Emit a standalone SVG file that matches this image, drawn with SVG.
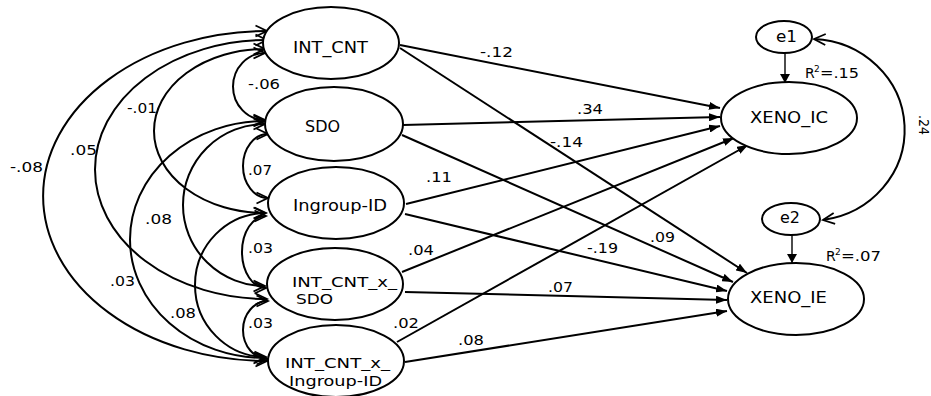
<svg xmlns="http://www.w3.org/2000/svg" width="931" height="396" viewBox="0 0 931 396">
  <style>
    .node ellipse { fill: #fff; stroke: #000; stroke-width: 2; }
    .err ellipse { fill: #fff; stroke: #000; stroke-width: 2; }
    text { font-family: "DejaVu Sans", Verdana, sans-serif; fill: #000; }
    .nt { font-size: 15px; }
    .nt2 { font-size: 14px; }
    .lbl { font-size: 13.5px; }
    .r2 { font-size: 14px; }
    .sup { font-size: 9px; }
    .reg { fill: none; stroke: #000; stroke-width: 2; marker-end: url(#solid); }
    .res { fill: none; stroke: #000; stroke-width: 1.4; marker-end: url(#solidSmall); }
    .cov { fill: none; stroke: #000; stroke-width: 2; marker-start: url(#open); marker-end: url(#open); }
  </style>
  <defs>
    <marker id="solid" markerUnits="userSpaceOnUse" viewBox="0 0 11 8" refX="11" refY="4" markerWidth="11" markerHeight="8" orient="auto">
      <path d="M0,0 L11,4 L0,8 z" fill="#000"/>
    </marker>
    <marker id="solidSmall" markerUnits="userSpaceOnUse" viewBox="0 0 9 10" refX="9" refY="5" markerWidth="9" markerHeight="10" orient="auto">
      <path d="M0,0 L9,5 L0,10 z" fill="#000"/>
    </marker>
    <marker id="open" markerUnits="userSpaceOnUse" viewBox="0 0 12 11" refX="11.5" refY="5.5" markerWidth="12" markerHeight="11" orient="auto-start-reverse" overflow="visible">
      <path d="M0,0 L11.5,5.5 L0,11" fill="none" stroke="#000" stroke-width="1.8"/>
    </marker>
  </defs>

  <rect width="931" height="396" fill="#fff"/>

  <!-- connectors: regressions, residual paths and covariances -->
  <g id="connectors">
    <!-- predictors to XENO_IC -->
    <path class="reg" d="M400,45 L720,108"/>
    <path class="reg" d="M403,125 L720,117"/>
    <path class="reg" d="M406,204 L720,126"/>
    <path class="reg" d="M402,272 L734,138"/>
    <path class="reg" d="M397,342 L748,145"/>
    <!-- predictors to XENO_IE -->
    <path class="reg" d="M400,48 L747,273"/>
    <path class="reg" d="M402,135 L733,282"/>
    <path class="reg" d="M405,214 L727,291"/>
    <path class="reg" d="M405,292 L727,300"/>
    <path class="reg" d="M405,362 L727,311"/>
    <!-- residuals -->
    <path class="res" d="M785,53 L785,83"/>
    <path class="res" d="M792,235 L792,263"/>
    <!-- residual covariance -->
    <path class="cov" d="M814,39 A 95 91 0 0 1 823,220"/>
    <!-- covariances among exogenous variables -->
    <path class="cov" d="M267,31 A 224 165 0 0 0 267,361"/>
    <path class="cov" d="M267,40 A 172 129.5 0 0 0 267,299"/>
    <path class="cov" d="M265,49 A 111 82 0 0 0 265,213"/>
    <path class="cov" d="M265,121 A 135 118.5 0 0 0 265,358"/>
    <path class="cov" d="M265,124 A 82 81 0 0 0 265,286"/>
    <path class="cov" d="M266,213 A 71 72 0 0 0 266,357"/>
    <path class="cov" d="M265,53 A 32 33.5 0 0 0 265,120"/>
    <path class="cov" d="M268,134 A 25 32 0 0 0 268,198"/>
    <path class="cov" d="M266,216 A 24 36 0 0 0 266,288"/>
    <path class="cov" d="M268,301 A 25 29 0 0 0 268,359"/>
  </g>

  <!-- exogenous variables -->
  <g id="n_int_cnt" class="node">
    <ellipse cx="331" cy="43" rx="68" ry="36"/>
    <text class="nt" x="293" y="53" textLength="75" lengthAdjust="spacingAndGlyphs">INT_CNT</text>
  </g>
  <g id="n_sdo" class="node">
    <ellipse cx="334" cy="124" rx="69" ry="37"/>
    <text class="nt" x="305" y="132" textLength="35" lengthAdjust="spacingAndGlyphs">SDO</text>
  </g>
  <g id="n_ingroup" class="node">
    <ellipse cx="336" cy="203" rx="68" ry="36"/>
    <text class="nt" x="293" y="211" textLength="94" lengthAdjust="spacingAndGlyphs">Ingroup-ID</text>
  </g>
  <g id="n_int_sdo" class="node">
    <ellipse cx="335" cy="284" rx="68" ry="36"/>
    <text class="nt2" x="292" y="287" textLength="105" lengthAdjust="spacingAndGlyphs">INT_CNT_x_</text>
    <text class="nt2" x="296" y="304" textLength="37" lengthAdjust="spacingAndGlyphs">SDO</text>
  </g>
  <g id="n_int_ing" class="node">
    <ellipse cx="336" cy="361" rx="68" ry="36"/>
    <text class="nt2" x="285" y="368" textLength="105" lengthAdjust="spacingAndGlyphs">INT_CNT_x_</text>
    <text class="nt2" x="289" y="386" textLength="93" lengthAdjust="spacingAndGlyphs">Ingroup-ID</text>
  </g>

  <!-- outcomes and residuals -->
  <g id="n_xeno_ic" class="node">
    <ellipse cx="789" cy="118" rx="68" ry="36"/>
    <text class="nt" x="750" y="123" textLength="78" lengthAdjust="spacingAndGlyphs">XENO_IC</text>
  </g>
  <g id="n_xeno_ie" class="node">
    <ellipse cx="796" cy="299" rx="68" ry="36"/>
    <text class="nt" x="750" y="303" textLength="77" lengthAdjust="spacingAndGlyphs">XENO_IE</text>
  </g>
  <g id="n_e1" class="err">
    <ellipse cx="784" cy="37" rx="28" ry="16"/>
    <text class="nt" x="776" y="42" textLength="21" lengthAdjust="spacingAndGlyphs">e1</text>
  </g>
  <g id="n_e2" class="err">
    <ellipse cx="791" cy="219" rx="29" ry="16"/>
    <text class="nt" x="780" y="223" textLength="20" lengthAdjust="spacingAndGlyphs">e2</text>
  </g>

  <!-- coefficient labels -->
  <g id="labels" class="lbl">
    <text x="480" y="57" textLength="33" lengthAdjust="spacingAndGlyphs">-.12</text>
    <text x="577" y="114" textLength="26" lengthAdjust="spacingAndGlyphs">.34</text>
    <text x="550" y="147" textLength="33" lengthAdjust="spacingAndGlyphs">-.14</text>
    <text x="426" y="182" textLength="26" lengthAdjust="spacingAndGlyphs">.11</text>
    <text x="650" y="242" textLength="25" lengthAdjust="spacingAndGlyphs">.09</text>
    <text x="587" y="253" textLength="31" lengthAdjust="spacingAndGlyphs">-.19</text>
    <text x="408" y="255" textLength="26" lengthAdjust="spacingAndGlyphs">.04</text>
    <text x="548" y="292" textLength="25" lengthAdjust="spacingAndGlyphs">.07</text>
    <text x="393" y="328" textLength="26" lengthAdjust="spacingAndGlyphs">.02</text>
    <text x="458" y="345" textLength="26" lengthAdjust="spacingAndGlyphs">.08</text>
    <text x="248" y="89" textLength="32" lengthAdjust="spacingAndGlyphs">-.06</text>
    <text x="248" y="175" textLength="24" lengthAdjust="spacingAndGlyphs">.07</text>
    <text x="248" y="253" textLength="25" lengthAdjust="spacingAndGlyphs">.03</text>
    <text x="248" y="328" textLength="25" lengthAdjust="spacingAndGlyphs">.03</text>
    <text x="127" y="113" textLength="30" lengthAdjust="spacingAndGlyphs">-.01</text>
    <text x="70" y="155" textLength="27" lengthAdjust="spacingAndGlyphs">.05</text>
    <text x="10" y="172" textLength="33" lengthAdjust="spacingAndGlyphs">-.08</text>
    <text x="145" y="224" textLength="27" lengthAdjust="spacingAndGlyphs">.08</text>
    <text x="110" y="286" textLength="25" lengthAdjust="spacingAndGlyphs">.03</text>
    <text x="170" y="318" textLength="26" lengthAdjust="spacingAndGlyphs">.08</text>
    <text x="919" y="115" transform="rotate(90 919 115)" textLength="20" lengthAdjust="spacingAndGlyphs">.24</text>
    <!-- squared multiple correlations -->
    <text class="r2" x="805" y="78">R</text>
    <text class="sup" x="814" y="72">2</text>
    <text class="r2" x="820" y="78" textLength="39" lengthAdjust="spacingAndGlyphs">=.15</text>
    <text class="r2" x="826" y="261">R</text>
    <text class="sup" x="835" y="255">2</text>
    <text class="r2" x="841" y="261" textLength="40" lengthAdjust="spacingAndGlyphs">=.07</text>
  </g>
</svg>
